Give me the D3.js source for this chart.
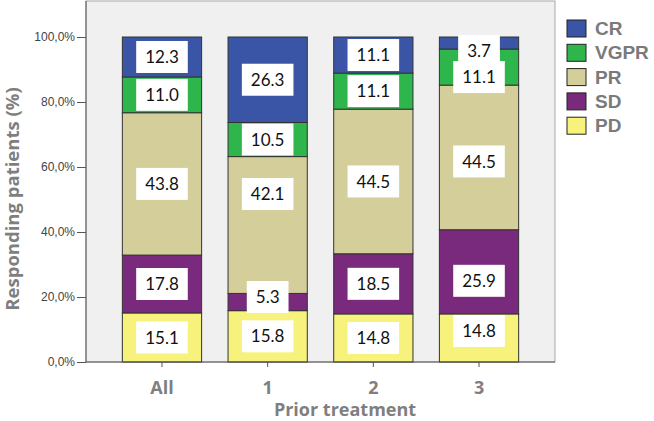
<!DOCTYPE html>
<html>
<head>
<meta charset="utf-8">
<script src="https://cdn.jsdelivr.net/npm/d3@7"></script>
<style>
  html, body { margin: 0; padding: 0; background: #fff; }
  svg { display: block; }
</style>
</head>
<body>
<svg id="chart" width="654" height="421"></svg>
<script>
// ---- data ----
const categories = ["All", "1", "2", "3"];
const seriesNames = ["CR", "VGPR", "PR", "SD", "PD"];
const CR   = [12.3, 26.3, 11.1, 3.7];
const VGPR = [11.0, 10.5, 11.1, 11.1];
const PR   = [43.8, 42.1, 44.5, 44.5];
const SD   = [17.8, 5.3, 18.5, 25.9];
const PD   = [15.1, 15.8, 14.8, 14.8];
const yTicks = [0, 20, 40, 60, 80, 100];
const xTitle = "Prior treatment";
const yTitle = "Responding patients (%)";

// ---- styles / layout ----
const colors = { CR: "#3b55a6", VGPR: "#2eb54b", PR: "#d4ce9b", SD: "#7a2a7d", PD: "#f6f27c" };
const labelNudge = { "1|PR": -31, "1|SD": -5, "3|SD": 9, "3|PD": -7, "3|PR": 4, "3|CR": 8, "3|VGPR": 10 };
const M = { left: 86, right: 555, frameTop: 1, top: 37, bottom: 362 };

const valuesBySeries = { CR, VGPR, PR, SD, PD };
const rows = categories.map((c, i) => {
  const r = { cat: c };
  seriesNames.forEach(s => r[s] = valuesBySeries[s][i]);
  return r;
});
const stackOrder = ["PD", "SD", "PR", "VGPR", "CR"];
const stacked = d3.stack().keys(stackOrder)(rows);

const svg = d3.select("#chart");
const x = d3.scaleBand().domain(categories).range([M.left, M.right]).paddingInner(0.25).paddingOuter(0.344);
const y = d3.scaleLinear().domain([0, 100]).range([M.bottom, M.top]);

// plot frame
svg.append("rect")
  .attr("x", M.left).attr("y", M.frameTop)
  .attr("width", M.right - M.left).attr("height", M.bottom - M.frameTop)
  .attr("fill", "#f0f0f0").attr("stroke", "#a8a8a8").attr("stroke-width", 1);

// bars
const g = svg.append("g");
stacked.forEach(layer => {
  g.selectAll(null).data(layer).enter().append("rect")
    .attr("x", d => x(d.data.cat))
    .attr("width", x.bandwidth())
    .attr("y", d => y(d[1]))
    .attr("height", d => y(d[0]) - y(d[1]))
    .attr("fill", colors[layer.key])
    .attr("stroke", "#333")
    .attr("stroke-width", 1);
});

// y axis
const yAxis = d3.axisLeft(y).tickValues(yTicks).tickSize(9).tickPadding(2)
  .tickFormat(d => d.toFixed(1).replace(".", ",") + "%");
const ya = svg.append("g").attr("transform", `translate(${M.left},0)`).call(yAxis);
ya.select(".domain").remove();
ya.selectAll(".tick line").attr("stroke", "#555");
ya.selectAll(".tick text").attr("font-family", "Liberation Sans, Arial, sans-serif")
  .attr("font-size", 12).attr("fill", "#444");
svg.append("line").attr("x1", M.left).attr("x2", M.left).attr("y1", M.frameTop).attr("y2", M.bottom)
  .attr("stroke", "#555");

// x axis
const xAxis = d3.axisBottom(x).tickSize(5).tickPadding(14);
const xa = svg.append("g").attr("transform", `translate(0,${M.bottom})`).call(xAxis);
xa.select(".domain").remove();
xa.selectAll(".tick line").attr("stroke", "#555");
xa.selectAll(".tick text").attr("font-family", "Open Sans, sans-serif")
  .attr("font-size", 18).attr("font-weight", 700).attr("fill", "#7f7f7f");
svg.append("line").attr("x1", M.left).attr("x2", M.right).attr("y1", M.bottom).attr("y2", M.bottom)
  .attr("stroke", "#555");

// axis titles
svg.append("text").attr("x", 345).attr("y", 416).attr("text-anchor", "middle")
  .attr("font-family", "Open Sans, sans-serif").attr("font-size", 18).attr("font-weight", 700)
  .attr("fill", "#7f7f7f").text(xTitle);
svg.append("text").attr("transform", "translate(19,199) rotate(-90)").attr("text-anchor", "middle")
  .attr("font-family", "Open Sans, sans-serif").attr("font-size", 18.5).attr("font-weight", 700)
  .attr("fill", "#7f7f7f").text(yTitle);

// value labels (drawn top series first)
const lg = svg.append("g");
[...stacked].reverse().forEach(layer => {
  layer.forEach(d => {
    const key = d.data.cat + "|" + layer.key;
    const cx = x(d.data.cat) + x.bandwidth() / 2;
    const cy = (y(d[0]) + y(d[1])) / 2 + (labelNudge[key] || 0);
    const grp = lg.append("g");
    const t = grp.append("text").attr("x", cx).attr("y", cy).attr("dy", "0.36em")
      .attr("text-anchor", "middle").attr("font-family", "Lato, sans-serif").attr("font-size", 17)
      .attr("fill", "#111").text(d.data[layer.key].toFixed(1));
    const w = t.node().getComputedTextLength() + 18;
    grp.insert("rect", "text").attr("x", cx - w / 2).attr("y", cy - 16)
      .attr("width", w).attr("height", 32).attr("fill", "#fff");
  });
});

// legend
const leg = svg.append("g");
seriesNames.forEach((s, i) => {
  const yy = 20 + i * 24.3;
  leg.append("rect").attr("x", 567).attr("y", yy).attr("width", 19).attr("height", 17)
    .attr("fill", colors[s]).attr("stroke", "#222").attr("stroke-width", 1);
  leg.append("text").attr("x", 595).attr("y", yy + 15)
    .attr("font-family", "Liberation Sans, Arial, sans-serif").attr("font-size", 19).attr("font-weight", 700)
    .attr("fill", "#7a7a7a").text(s);
});
</script>
</body>
</html>
